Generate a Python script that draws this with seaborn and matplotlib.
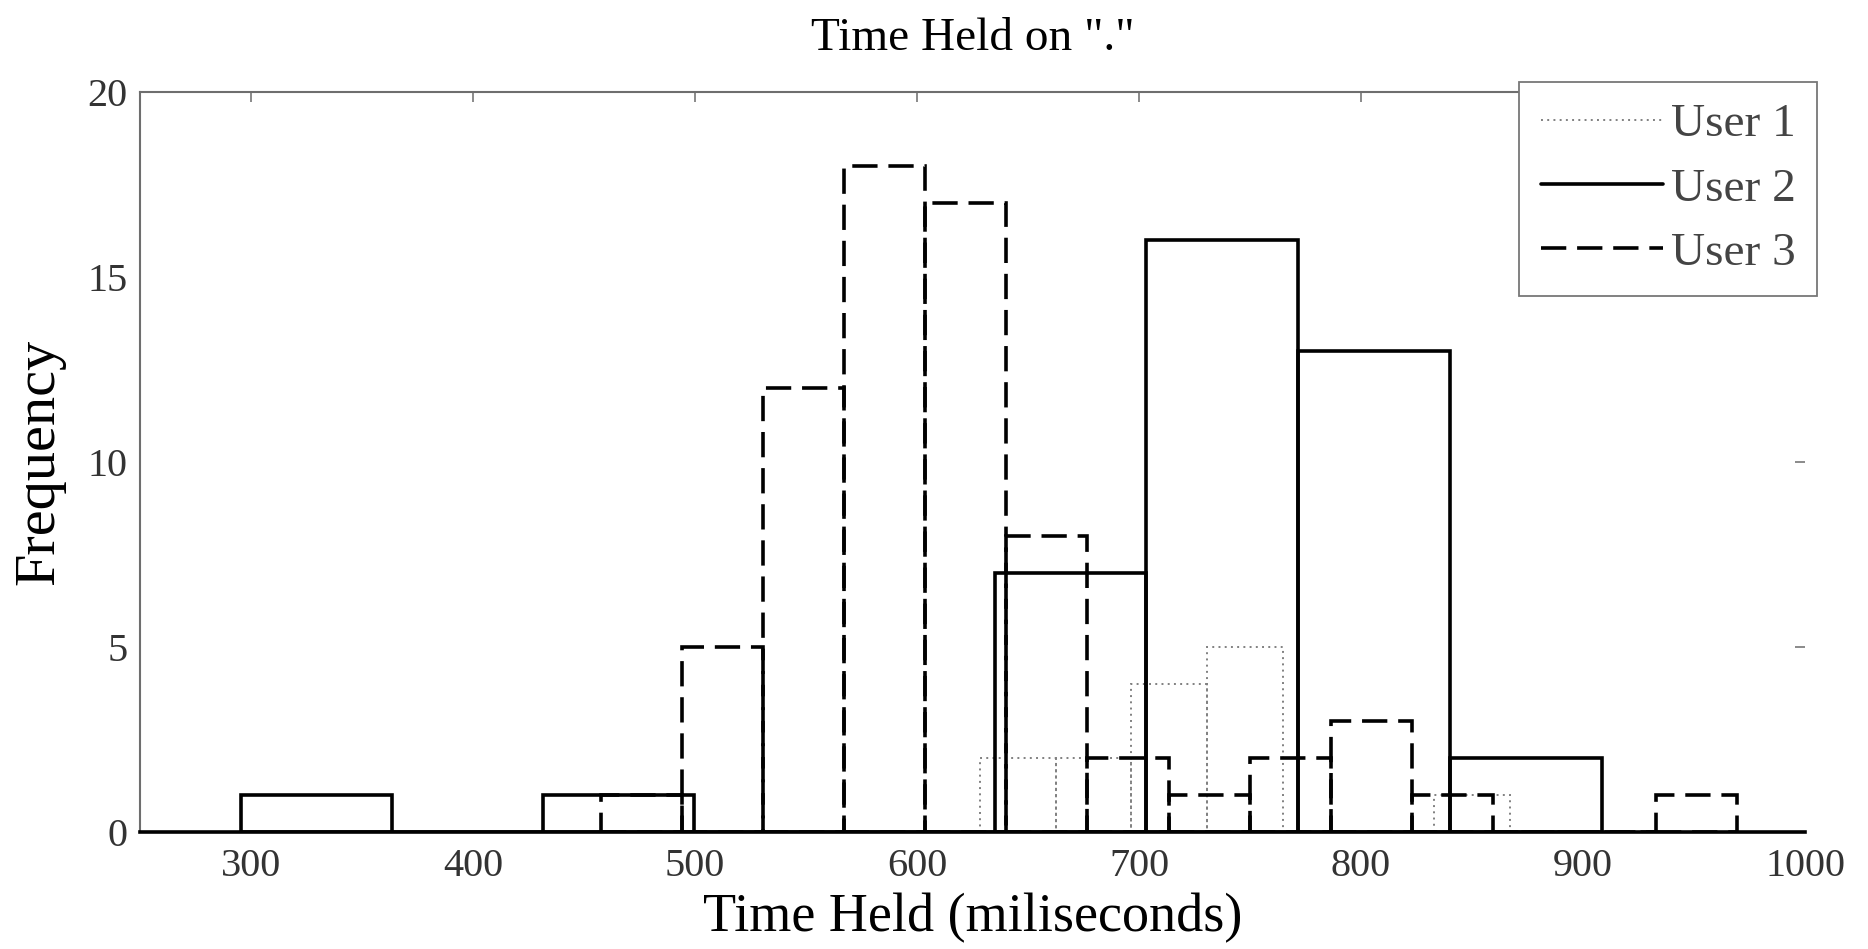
import matplotlib
matplotlib.use("Agg")
import matplotlib.pyplot as plt
from matplotlib.lines import Line2D
import seaborn as sns

# bin edges and counts (milliseconds / frequency)
user1_edges = [628.4, 662.5, 696.6, 730.7, 764.8, 798.9, 833.0, 867.1]
user1_counts = [2, 2, 4, 5, 0, 0, 1]

user2_edges = [295.5, 363.7, 431.6, 499.6, 567.3, 635.2, 703.3, 771.6, 840.2, 908.6]
user2_counts = [1, 0, 1, 0, 0, 7, 16, 13, 2]

user3_edges = [457.5, 494.0, 530.5, 567.0, 603.5, 640.2, 676.7, 713.5, 750.0, 786.5,
               823.0, 859.5, 896.0, 932.8, 969.3]
user3_counts = [1, 5, 12, 18, 17, 8, 2, 1, 2, 3, 1, 0, 0, 1]

labels = ['User 1', 'User 2', 'User 3']
x_ticks = [300, 400, 500, 600, 700, 800, 900, 1000]
y_ticks = [0, 5, 10, 15, 20]

sns.set_style("white")
plt.rcParams['font.family'] = ['Liberation Serif', 'DejaVu Serif']

fig, ax = plt.subplots(figsize=(18.68, 9.49), dpi=100)
fig.subplots_adjust(left=0.0749, right=0.9663, top=0.9034, bottom=0.1236)

styles = [
    dict(color='#808080', linewidth=1.4, linestyle=(0, (1, 2.2))),
    dict(color='black', linewidth=2.6, linestyle='-'),
    dict(color='black', linewidth=2.6, linestyle=(0, (7, 3))),
]


def draw(edges, counts, style):
    mids = [(a + b) / 2 for a, b in zip(edges[:-1], edges[1:])]
    sns.histplot(x=mids, weights=counts, bins=edges, element='bars', fill=False,
                 ax=ax, **style)


draw(user1_edges, user1_counts, styles[0])
draw(user2_edges, user2_counts, styles[1])
draw(user3_edges, user3_counts, styles[2])

ax.set_xlim(250, 1000)
ax.set_ylim(0, 20)
ax.set_xticks(x_ticks)
ax.set_yticks(y_ticks)
ax.tick_params(direction='in', length=7, width=1.2, color='#777777', top=True, right=True,
               labelsize=29, labelcolor='#333333')
ax.tick_params(axis='x', pad=12)
ax.tick_params(axis='y', pad=9)

for side in ['left', 'top']:
    ax.spines[side].set_color('#6e6e6e')
    ax.spines[side].set_linewidth(1.5)
ax.spines['right'].set_visible(False)
ax.spines['bottom'].set_color('black')
ax.spines['bottom'].set_linewidth(2.6)

ax.set_title('Time Held on "."', fontsize=34, pad=30, color='black')
ax.set_xlabel('Time Held (miliseconds)', fontsize=39, color='black')
ax.set_ylabel('Frequency', fontsize=42, color='black')
ax.xaxis.set_label_coords(0.5, -0.083)
ax.yaxis.set_label_coords(-0.045, 0.5)

handles = [Line2D([], [], **s) for s in styles]
leg = ax.legend(handles, labels, loc='upper right', bbox_to_anchor=(1.007, 1.013),
                borderaxespad=0, fontsize=34, handlelength=2.6, handletextpad=0.15,
                labelspacing=0.45, borderpad=0.45, fancybox=False, framealpha=1,
                edgecolor='#777777')
leg.get_frame().set_linewidth(1.3)
for t in leg.get_texts():
    t.set_color('#444444')

fig.savefig('out.png', dpi=100)
